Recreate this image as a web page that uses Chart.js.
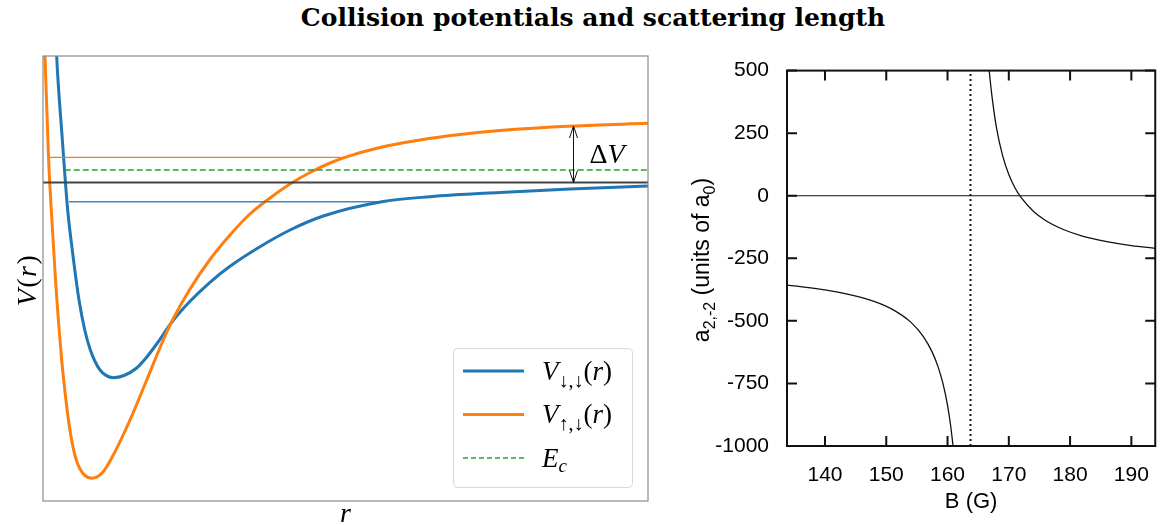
<!DOCTYPE html>
<html>
<head>
<meta charset="utf-8">
<script src="https://cdn.jsdelivr.net/npm/chart.js@4.4.1/dist/chart.umd.min.js"></script>
<style>
  body { margin: 0; background: #fff; }
  #wrap { position: relative; width: 1166px; height: 525px; overflow: hidden; }
  #title {
    position: absolute; left: 593px; top: 3px; transform: translateX(-50%);
    white-space: nowrap; font: bold 25px "DejaVu Serif", serif; color: #000;
  }
  #potentials { position: absolute; left: 0; top: 40px; }
  #scattering { position: absolute; left: 680px; top: 40px; }
</style>
</head>
<body>
<div id="wrap">
  <div id="title">Collision potentials and scattering length</div>
  <canvas id="potentials" width="660" height="485"></canvas>
  <canvas id="scattering" width="486" height="485"></canvas>
</div>
<script>
// --- left panel: the two molecular potentials (arbitrary units, V = 0 at the open-channel threshold)
const rDownDown = [0.207, 0.226, 0.314, 0.408, 0.484, 0.595, 0.694, 0.777, 0.86, 0.942, 1.041, 1.162, 1.339, 1.549, 1.702, 1.879, 2.132, 2.43, 2.76, 3.091, 3.532, 4.083, 4.633, 5.625, 6.397, 7.554, 8.711, 10.0]
const vDownDown = [1.575, 1.265, 0.475, -0.275, -0.675, -1.175, -1.485, -1.665, -1.79, -1.875, -1.929, -1.952, -1.93, -1.855, -1.755, -1.615, -1.395, -1.188, -0.998, -0.838, -0.662, -0.475, -0.335, -0.19, -0.142, -0.1, -0.065, -0.035]

const rUpDown = [0.017, 0.033, 0.091, 0.137, 0.207, 0.309, 0.364, 0.421, 0.479, 0.545, 0.612, 0.694, 0.805, 0.992, 1.162, 1.438, 1.714, 1.988, 2.132, 2.43, 2.76, 3.091, 3.421, 3.752, 4.083, 4.413, 4.744, 4.992, 5.57, 6.231, 6.893, 7.554, 8.76, 10.0]
const vUpDown = [1.575, 1.265, 0.255, -0.275, -0.975, -1.775, -2.095, -2.375, -2.595, -2.765, -2.865, -2.93, -2.958, -2.895, -2.725, -2.375, -1.975, -1.575, -1.385, -1.065, -0.77, -0.525, -0.315, -0.155, -0.015, 0.1, 0.195, 0.252, 0.35, 0.425, 0.48, 0.52, 0.565, 0.592]

// bound levels and collision energy: [rStart, rEnd] and the energy
const levelDownDownR = [0.43, 5.62]
const levelDownDownV = -0.192
const levelUpDownR = [0.116, 4.99]
const levelUpDownV = 0.252
const ecR = [0.36, 10.0]
const ecV = 0.125
const rRange = [0, 10]
// where the ΔV arrow sits and the asymptote it reaches
const gapR = 8.755
const gapV = 0.565

// --- right panel: scattering length across the Feshbach resonance
const bLow = [133.8, 136, 140, 144, 148, 151, 154, 156, 157.5, 158.5, 159.3, 160, 160.5, 160.9]
const aLow = [-357, -363, -376, -395, -422, -454, -505, -561, -625, -687, -755, -838, -917, -1000]
const bHigh = [166.8, 167.2, 168, 169, 170, 171, 172, 174, 176, 179, 182, 186, 190, 193.9]
const aHigh = [500, 408, 270, 159, 85, 32, -7, -62, -99, -136, -161, -183, -199, -210]
const bRes = 163.75
const bTicks = [140, 150, 160, 170, 180, 190]
const aTicks = [500, 250, 0, -250, -500, -750, -1000]

const BLUE = '#1f77b4'
const ORANGE = '#ff7f0e'
const GREEN = '#2ca02c'
const SERIF = '"Liberation Serif", "Times New Roman", serif'
const SANS = '"Liberation Sans", Arial, Helvetica, sans-serif'

const xy = (xs, ys) => xs.map((v, i) => ({ x: v, y: ys[i] }))
const flat = (xs, v) => xs.map((r) => ({ x: r, y: v }))

// draws a row of text runs (font changes, sub/superscripts), returns end x
const drawRuns = (ctx, runs, x, y) => {
  runs.forEach(([text, font, dy]) => {
    ctx.font = font
    ctx.fillText(text, x, y + (dy || 0))
    x += ctx.measureText(text).width
  })
  return x
}
const runsWidth = (ctx, runs) => runs.reduce((w, [text, font]) => {
  ctx.font = font
  return w + ctx.measureText(text).width
}, 0)

const legendItems = [
  { color: BLUE, dash: [], width: 3, runs: [['V', `italic 27px ${SERIF}`], ['↓,↓', `20px ${SERIF}`, 7], ['(', `27px ${SERIF}`], ['r', `italic 27px ${SERIF}`], [')', `27px ${SERIF}`]] },
  { color: ORANGE, dash: [], width: 3, runs: [['V', `italic 27px ${SERIF}`], ['↑,↓', `20px ${SERIF}`, 7], ['(', `27px ${SERIF}`], ['r', `italic 27px ${SERIF}`], [')', `27px ${SERIF}`]] },
  { color: GREEN, dash: [5, 3], width: 1.6, runs: [['E', `italic 27px ${SERIF}`], ['c', `italic 19px ${SERIF}`, 5]] },
]

const potentialDecor = {
  id: 'potentialDecor',
  afterDraw: (chart) => {
    const { ctx, chartArea: a, scales: { x, y } } = chart
    ctx.save()
    // axes frame
    ctx.strokeStyle = '#8a8a8a'
    ctx.lineWidth = 1.2
    ctx.strokeRect(a.left, a.top, a.right - a.left, a.bottom - a.top)

    // ΔV double arrow
    const ax = Math.round(x.getPixelForValue(gapR)) + 0.5
    const yTop = y.getPixelForValue(gapV)
    const yBot = y.getPixelForValue(0)
    ctx.strokeStyle = '#111'
    ctx.lineWidth = 1
    ctx.beginPath()
    ctx.moveTo(ax, yTop); ctx.lineTo(ax, yBot)
    ctx.moveTo(ax - 4, yTop + 12); ctx.lineTo(ax, yTop); ctx.lineTo(ax + 4, yTop + 12)
    ctx.moveTo(ax - 4, yBot - 12); ctx.lineTo(ax, yBot); ctx.lineTo(ax + 4, yBot - 12)
    ctx.stroke()
    ctx.fillStyle = '#000'
    ctx.textBaseline = 'alphabetic'
    drawRuns(ctx, [['Δ', `28px ${SERIF}`], ['V', `italic 28px ${SERIF}`]], ax + 16, (yTop + yBot) / 2 + 9)

    // axis labels
    ctx.letterSpacing = '1.5px'
    const vr = [['V', `italic 28px ${SERIF}`], ['(', `28px ${SERIF}`], ['r', `italic 28px ${SERIF}`], [')', `28px ${SERIF}`]]
    ctx.save()
    ctx.translate(36, 240)
    ctx.rotate(-Math.PI / 2)
    drawRuns(ctx, vr, -runsWidth(ctx, vr) / 2, 0)
    ctx.restore()
    ctx.letterSpacing = '0px'
    ctx.font = `italic 28px ${SERIF}`
    ctx.textAlign = 'center'
    ctx.fillText('r', (a.left + a.right) / 2, a.bottom + 21)
    ctx.textAlign = 'left'

    // legend
    const lx = 453.5, ly = 308.5, lw = 179, lh = 139
    ctx.beginPath()
    ctx.roundRect(lx, ly, lw, lh, 4)
    ctx.fillStyle = 'rgba(255,255,255,0.85)'
    ctx.fill()
    ctx.strokeStyle = '#d8d8d8'
    ctx.lineWidth = 1
    ctx.stroke()
    legendItems.forEach((item, i) => {
      const rowY = 331 + i * 43.5
      ctx.strokeStyle = item.color
      ctx.lineWidth = item.width
      ctx.setLineDash(item.dash)
      ctx.beginPath()
      ctx.moveTo(463, rowY)
      ctx.lineTo(524, rowY)
      ctx.stroke()
      ctx.setLineDash([])
      ctx.fillStyle = '#000'
      drawRuns(ctx, item.runs, 542, rowY + 8.5)
    })
    ctx.restore()
  }
}

new Chart(document.getElementById('potentials'), {
  type: 'line',
  data: {
    datasets: [
      { data: flat(rRange, 0), borderColor: '#444', borderWidth: 1.8 },
      { data: flat(levelUpDownR, levelUpDownV), borderColor: ORANGE, borderWidth: 1.2 },
      { data: flat(levelDownDownR, levelDownDownV), borderColor: 'rgba(31,119,180,0.85)', borderWidth: 1.5 },
      { data: flat(ecR, ecV), borderColor: GREEN, borderWidth: 1.6, borderDash: [6, 3] },
      { data: xy(rUpDown, vUpDown), borderColor: ORANGE, borderWidth: 3, cubicInterpolationMode: 'monotone' },
      { data: xy(rDownDown, vDownDown), borderColor: BLUE, borderWidth: 3, cubicInterpolationMode: 'monotone' },
    ]
  },
  options: {
    responsive: false,
    animation: false,
    elements: { point: { radius: 0 } },
    layout: { padding: { left: 43, top: 16, right: 12, bottom: 24 } },
    scales: {
      x: { type: 'linear', display: false, min: rRange[0], max: rRange[1] },
      y: { display: false, min: -3.185, max: 1.265 },
    },
    plugins: { legend: { display: false }, tooltip: { enabled: false } },
  },
  plugins: [potentialDecor],
})

const gnuplotFrame = {
  id: 'gnuplotFrame',
  afterDatasetsDraw: (chart) => {
    const { ctx, chartArea: a, scales: { x, y } } = chart
    ctx.save()
    ctx.strokeStyle = '#111'
    ctx.lineWidth = 2
    ctx.strokeRect(a.left, a.top, a.right - a.left, a.bottom - a.top)
    ctx.beginPath()
    bTicks.forEach((v) => {
      const px = x.getPixelForValue(v)
      ctx.moveTo(px, a.bottom); ctx.lineTo(px, a.bottom - 10)
      ctx.moveTo(px, a.top); ctx.lineTo(px, a.top + 10)
    })
    aTicks.forEach((v) => {
      const py = y.getPixelForValue(v)
      ctx.moveTo(a.left, py); ctx.lineTo(a.left + 10, py)
      ctx.moveTo(a.right, py); ctx.lineTo(a.right - 10, py)
    })
    ctx.stroke()

    // y title with subscripts
    const runs = [['a', `23px ${SANS}`], ['2,-2', `16px ${SANS}`, 6], [' (units of a', `23px ${SANS}`], ['0', `16px ${SANS}`, 6], [')', `23px ${SANS}`]]
    ctx.fillStyle = '#000'
    ctx.textBaseline = 'alphabetic'
    ctx.translate(29, 220)
    ctx.rotate(-Math.PI / 2)
    drawRuns(ctx, runs, -runsWidth(ctx, runs) / 2, 0)
    ctx.restore()
  }
}

new Chart(document.getElementById('scattering'), {
  type: 'line',
  data: {
    datasets: [
      { data: flat([bLow[0], bHigh[bHigh.length - 1]], 0), borderColor: '#111', borderWidth: 1.2 },
      { data: [{ x: bRes, y: aTicks[aTicks.length - 1] }, { x: bRes, y: aTicks[0] }], borderColor: '#111', borderWidth: 2, borderDash: [2, 3] },
      { data: xy(bLow, aLow), borderColor: '#111', borderWidth: 1.3, cubicInterpolationMode: 'monotone' },
      { data: xy(bHigh, aHigh), borderColor: '#111', borderWidth: 1.3, cubicInterpolationMode: 'monotone' },
    ]
  },
  options: {
    responsive: false,
    animation: false,
    elements: { point: { radius: 0 } },
    layout: { padding: { left: 0, top: 26, right: 2, bottom: 0 } },
    scales: {
      x: {
        type: 'linear', min: 133.8, max: 193.9,
        afterBuildTicks: (s) => { s.ticks = bTicks.map((v) => ({ value: v })) },
        afterFit: (s) => { s.height = 79 },
        grid: { display: false, drawTicks: false },
        border: { display: false },
        ticks: { color: '#000', autoSkip: false, maxRotation: 0, padding: 17, font: { family: SANS, size: 21 }, callback: (v) => String(v) },
        title: { display: true, text: 'B (G)', color: '#000', font: { family: SANS, size: 22 }, padding: { top: 0, bottom: 10 } },
      },
      y: {
        min: -1000, max: 500,
        afterBuildTicks: (s) => { s.ticks = aTicks.map((v) => ({ value: v })) },
        afterFit: (s) => { s.width = 107 },
        grid: { display: false, drawTicks: false },
        border: { display: false },
        ticks: { color: '#000', autoSkip: false, padding: 18, font: { family: SANS, size: 21 }, callback: (v) => String(v) },
      },
    },
    plugins: { legend: { display: false }, tooltip: { enabled: false } },
  },
  plugins: [gnuplotFrame],
})
</script>
</body>
</html>
